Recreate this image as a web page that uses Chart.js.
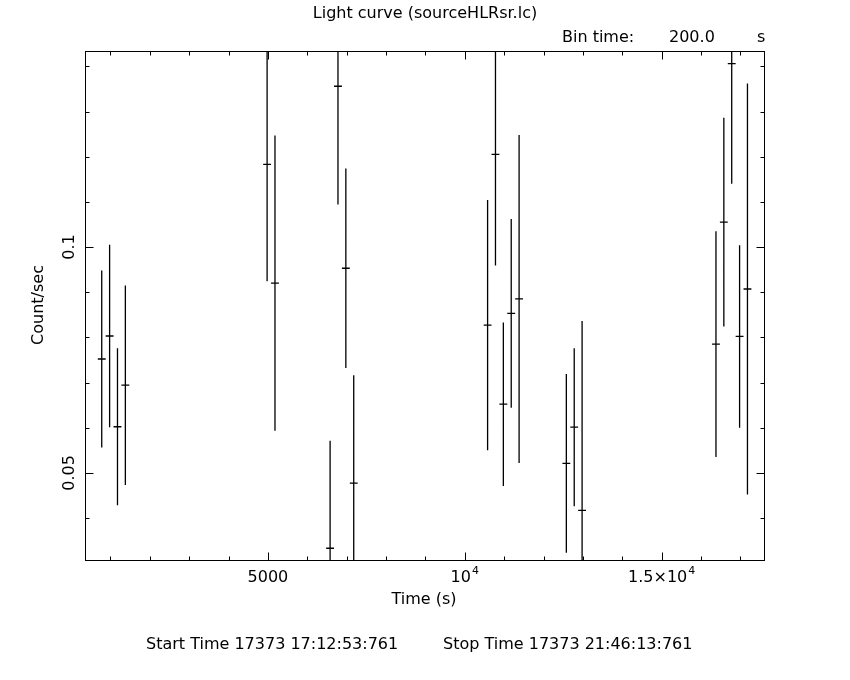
<!DOCTYPE html>
<html>
<head>
<meta charset="utf-8">
<script src="https://cdn.jsdelivr.net/npm/chart.js@4/dist/chart.umd.min.js"></script>
<style>
  html, body { margin: 0; padding: 0; background: #fff; }
  #wrap { width: 850px; height: 680px; }
</style>
</head>
<body>
<div id="wrap"><canvas id="c" width="850" height="680"></canvas></div>
<script>
// ---- data ----
const times = [780, 980, 1180, 1380, 4980, 5180, 6580, 6780, 6980, 7180,
  10580, 10780, 10980, 11180, 11380, 12580, 12780, 12980,
  16380, 16580, 16780, 16980, 17180];
const rates = [0.0752, 0.0803, 0.0602, 0.0694, 0.1183, 0.0920, 0.0333, 0.1356, 0.0953, 0.0477,
  0.0827, 0.1205, 0.0652, 0.0853, 0.0885, 0.0521, 0.0601, 0.0417,
  0.0785, 0.1055, 0.1406, 0.0802, 0.0907];
const errors = [0.0196, 0.0202, 0.0174, 0.0221, 0.0259, 0.0327, 0.0238, 0.0262, 0.0221, 0.0239,
  0.0277, 0.0246, 0.0181, 0.0209, 0.0363, 0.0198, 0.0175, 0.0419,
  0.0250, 0.0231, 0.0266, 0.0202, 0.0455];
const binTime = 200.0;
const xRange = [355, 17600];
const yRange = [0.0307, 0.1434];
const xMajorTicks = [5000, 10000, 15000];
const xMinorStep = 1000;
const yMajorTicks = [0.05, 0.1];
const yMinorStep = 0.01;
const xTickLabels = [["5000", ""], ["10", "4"], ["1.5\u00d710", "4"]];
const yTickLabels = ["0.05", "0.1"];
const titleText = "Light curve (sourceHLRsr.lc)";
const xTitle = "Time (s)";
const yTitle = "Count/sec";
const startText = "Start Time 17373 17:12:53:761";
const stopText = "Stop Time 17373 21:46:13:761";

// ---- build error-bar line data (gaps separate each bar) ----
const vData = [], hData = [];
times.forEach((t, i) => {
  vData.push({x: t, y: rates[i] - errors[i]}, {x: t, y: rates[i] + errors[i]}, {x: t, y: null});
  hData.push({x: t - binTime / 2, y: rates[i]}, {x: t + binTime / 2, y: rates[i]}, {x: t, y: null});
});

const FONT = '"DejaVu Sans", "Liberation Sans", sans-serif';
const FS = 16, FSS = 11;

const framePlugin = {
  id: 'pgframe',
  afterDraw(chart) {
    const {ctx, chartArea: a, scales: {x, y}} = chart;
    ctx.save();
    ctx.strokeStyle = '#000';
    ctx.fillStyle = '#000';
    ctx.lineWidth = 1;
    const L = Math.round(a.left) + 0.5, R = Math.round(a.right) + 0.5;
    const T = Math.round(a.top) + 0.5, B = Math.round(a.bottom) + 0.5;
    ctx.strokeRect(L, T, R - L, B - T);
    // x ticks
    ctx.beginPath();
    for (let v = Math.ceil(xRange[0] / xMinorStep) * xMinorStep; v <= xRange[1]; v += xMinorStep) {
      const px = Math.round(x.getPixelForValue(v)) + 0.5;
      const len = xMajorTicks.includes(v) ? 8 : 4;
      ctx.moveTo(px, B); ctx.lineTo(px, B - len);
      ctx.moveTo(px, T); ctx.lineTo(px, T + len);
    }
    // y ticks
    for (let k = Math.ceil(yRange[0] / yMinorStep); k * yMinorStep <= yRange[1]; k++) {
      const v = +(k * yMinorStep).toFixed(3);
      const py = Math.round(y.getPixelForValue(v)) + 0.5;
      const len = yMajorTicks.includes(v) ? 8 : 4;
      ctx.moveTo(L, py); ctx.lineTo(L + len, py);
      ctx.moveTo(R, py); ctx.lineTo(R - len, py);
    }
    ctx.stroke();

    ctx.textBaseline = 'middle';
    // x tick labels
    xMajorTicks.forEach((v, i) => {
      const [base, sup] = xTickLabels[i];
      const px = x.getPixelForValue(v);
      ctx.font = FS + 'px ' + FONT;
      const wb = ctx.measureText(base).width;
      ctx.font = FSS + 'px ' + FONT;
      const ws = sup ? ctx.measureText(sup).width + 1 : 0;
      const start = px - (wb + ws) / 2;
      ctx.font = FS + 'px ' + FONT;
      ctx.textAlign = 'left';
      ctx.fillText(base, start, 578);
      if (sup) { ctx.font = FSS + 'px ' + FONT; ctx.fillText(sup, start + wb + 1, 571); }
    });
    // y tick labels (rotated)
    ctx.font = FS + 'px ' + FONT;
    ctx.textAlign = 'center';
    yMajorTicks.forEach((v, i) => {
      const py = y.getPixelForValue(v);
      ctx.save();
      ctx.translate(70, py);
      ctx.rotate(-Math.PI / 2);
      ctx.fillText(yTickLabels[i], 0, 0);
      ctx.restore();
    });
    // axis titles
    ctx.textAlign = 'center';
    ctx.fillText(xTitle, 424, 600);
    ctx.save();
    ctx.translate(39, 305);
    ctx.rotate(-Math.PI / 2);
    ctx.fillText(yTitle, 0, 0);
    ctx.restore();
    // title & bin time
    ctx.fillText(titleText, 425, 14);
    ctx.textAlign = 'left';
    ctx.fillText('Bin time:', 562, 38);
    ctx.fillText(binTime.toFixed(1), 669, 38);
    ctx.fillText('s', 757, 38);
    // footer
    ctx.fillText(startText, 146, 645);
    ctx.fillText(stopText, 443, 645);
    ctx.restore();
  }
};

new Chart(document.getElementById('c'), {
  type: 'line',
  data: {
    datasets: [
      {data: vData, borderColor: '#000', borderWidth: 1.3, pointRadius: 0, spanGaps: false, tension: 0},
      {data: hData, borderColor: '#000', borderWidth: 1.3, pointRadius: 0, spanGaps: false, tension: 0}
    ]
  },
  options: {
    responsive: false,
    animation: false,
    devicePixelRatio: 1,
    layout: {padding: {left: 85, top: 51, right: 86, bottom: 120}},
    plugins: {legend: {display: false}, tooltip: {enabled: false}, title: {display: false}},
    scales: {
      x: {type: 'linear', min: xRange[0], max: xRange[1], display: false},
      y: {type: 'linear', min: yRange[0], max: yRange[1], display: false}
    }
  },
  plugins: [framePlugin]
});
</script>
</body>
</html>
